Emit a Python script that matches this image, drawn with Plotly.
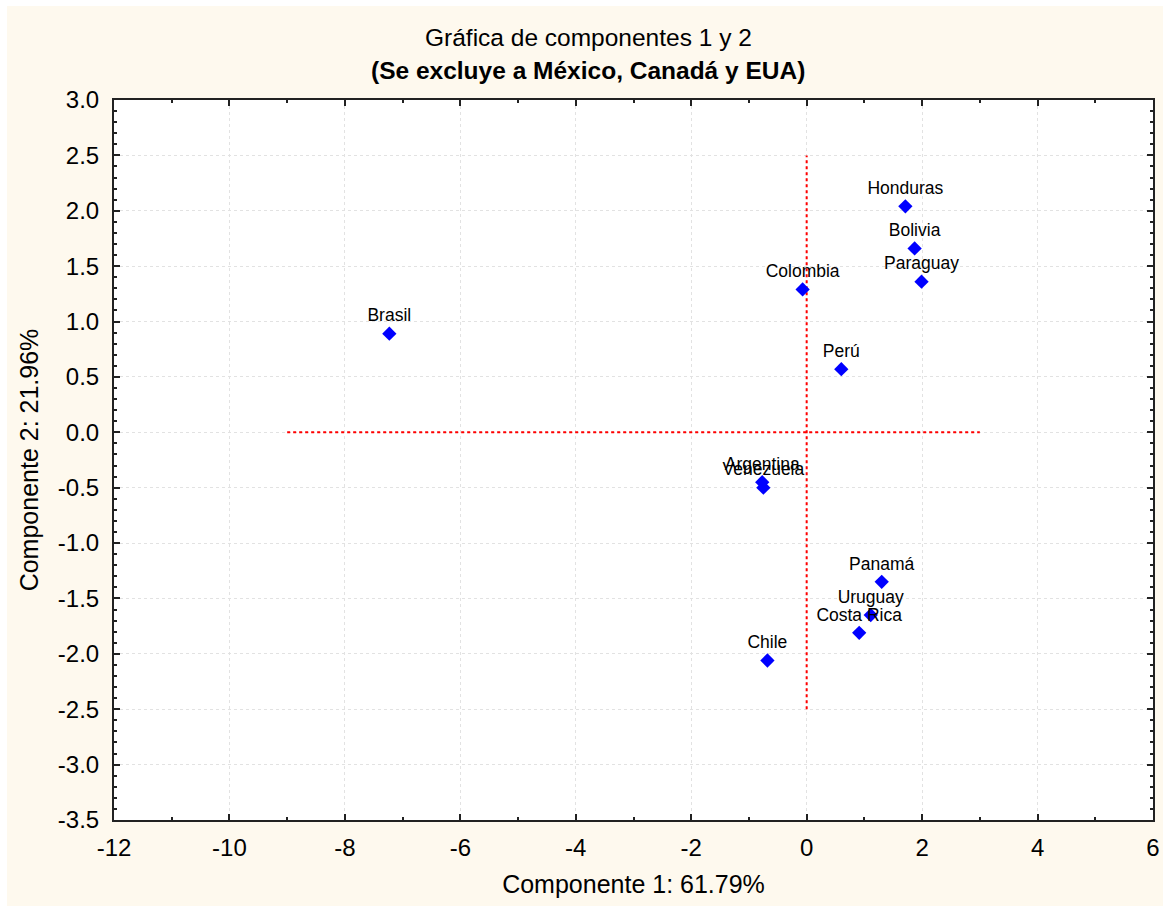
import plotly.graph_objects as go

# ---- data ----
countries = ["Honduras", "Bolivia", "Paraguay", "Colombia", "Perú", "Brasil",
             "Argentina", "Venezuela", "Panamá", "Uruguay", "Costa Rica", "Chile"]
comp1 = [1.71, 1.87, 1.99, -0.07, 0.60, -7.23, -0.77, -0.75, 1.30, 1.11, 0.91, -0.68]
comp2 = [2.04, 1.66, 1.36, 1.29, 0.57, 0.89, -0.45, -0.50, -1.35, -1.65, -1.81, -2.06]

# reference lines (ends)
hline_x = [-9, 3]
hline_y = [0, 0]
vline_x = [0, 0]
vline_y = [-2.5, 2.5]

x_ticks = [-12, -10, -8, -6, -4, -2, 0, 2, 4, 6]
x_ticktext = ["-12", "-10", "-8", "-6", "-4", "-2", "0", "2", "4", "6"]
y_ticks = [3.0, 2.5, 2.0, 1.5, 1.0, 0.5, 0.0, -0.5, -1.0, -1.5, -2.0, -2.5, -3.0, -3.5]
y_ticktext = ["3.0", "2.5", "2.0", "1.5", "1.0", "0.5", "0.0", "-0.5", "-1.0",
              "-1.5", "-2.0", "-2.5", "-3.0", "-3.5"]

FONT = "Arial, Liberation Sans, sans-serif"
CREAM = "#FEF9EE"

fig = go.Figure()
fig.add_trace(go.Scatter(x=hline_x, y=hline_y, mode="lines",
                         line=dict(color="#FF0000", width=2, dash="dot"),
                         hoverinfo="skip", showlegend=False))
fig.add_trace(go.Scatter(x=vline_x, y=vline_y, mode="lines",
                         line=dict(color="#FF0000", width=2, dash="dot"),
                         hoverinfo="skip", showlegend=False))
fig.add_trace(go.Scatter(x=comp1, y=comp2, mode="markers+text", text=countries,
                         textposition="top center",
                         textfont=dict(family=FONT, size=17.5, color="black"),
                         marker=dict(symbol="diamond", size=11, color="#0000FF",
                                     line=dict(width=0)),
                         showlegend=False))

axis_common = dict(showline=True, linecolor="#222222", linewidth=2, mirror="ticks",
                   ticks="inside", ticklen=6, tickwidth=1.5, tickcolor="#222222",
                   showgrid=True, gridcolor="#E2E2E2", griddash="dot", gridwidth=1,
                   zeroline=False, automargin=False,
                   tickfont=dict(family=FONT, size=24, color="black"))

fig.update_xaxes(range=[-12, 6], tickvals=x_ticks, ticktext=x_ticktext,
                 minor=dict(dtick=1, tick0=0, ticks="inside", ticklen=3,
                            tickcolor="#222222", showgrid=False),
                 title=dict(text="Componente 1: 61.79%",
                            font=dict(family=FONT, size=25, color="black"), standoff=16),
                 ticklabelstandoff=5,
                 **axis_common)
fig.update_yaxes(range=[-3.5, 3.0], tickvals=y_ticks, ticktext=y_ticktext,
                 minor=dict(dtick=0.1, tick0=0, ticks="inside", ticklen=3,
                            tickcolor="#222222", showgrid=False),
                 title=dict(text="Componente 2: 21.96%",
                            font=dict(family=FONT, size=25, color="black"), standoff=12),
                 ticklabelstandoff=8,
                 **axis_common)

W, H = 1163, 906
L, R, T, B = 114, 10, 100, 86
pw, ph = W - L - R, H - T - B

def px_x(px):
    return (px - L) / pw

def px_y(py):
    return (H - B - py) / ph

shapes = [
    dict(type="rect", xref="paper", yref="paper", x0=px_x(-5), x1=px_x(7),
         y0=px_y(H + 5), y1=px_y(-5), fillcolor="white", line=dict(width=0), layer="below"),
    dict(type="rect", xref="paper", yref="paper", x0=px_x(-5), x1=px_x(W + 5),
         y0=px_y(6), y1=px_y(-5), fillcolor="white", line=dict(width=0), layer="below"),
]

annotations = [
    dict(text="Gráfica de componentes 1 y 2", xref="paper", yref="paper",
         x=px_x(588), y=px_y(37), xanchor="center", yanchor="middle", showarrow=False,
         font=dict(family=FONT, size=24.5, color="black")),
    dict(text="<b>(Se excluye a México, Canadá y EUA)</b>", xref="paper", yref="paper",
         x=px_x(588), y=px_y(71), xanchor="center", yanchor="middle", showarrow=False,
         font=dict(family=FONT, size=24.5, color="black")),
]

fig.update_layout(width=W, height=H, margin=dict(l=L, r=R, t=T, b=B),
                  paper_bgcolor=CREAM, plot_bgcolor="white",
                  shapes=shapes, annotations=annotations,
                  font=dict(family=FONT, color="black"))

fig.write_html("out.html")
